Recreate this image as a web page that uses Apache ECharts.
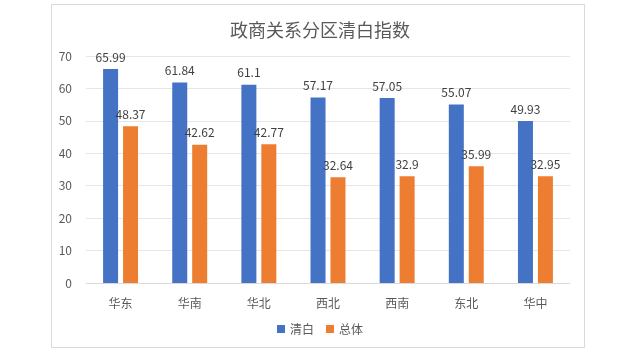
<!DOCTYPE html>
<html><head><meta charset="utf-8">
<script src="https://cdn.jsdelivr.net/npm/echarts@6/dist/echarts.min.js"></script>
<style>html,body{margin:0;padding:0;background:#fff}#c{width:640px;height:363px}</style>
</head><body><div id="c"></div>
<script>
const categories = ['华东','华南','华北','西北','西南','东北','华中'];
const qingbai = [65.99, 61.84, 61.1, 57.17, 57.05, 55.07, 49.93];
const zongti = [48.37, 42.62, 42.77, 32.64, 32.9, 35.99, 32.95];
const yTicks = {min: 0, max: 70, interval: 10};

const chart = echarts.init(document.getElementById('c'), null, {renderer: 'canvas'});
const font = '"Noto Sans CJK SC", "Noto Sans", sans-serif';
chart.setOption({
  animation: false,
  textStyle: {fontFamily: font},
  graphic: [{type: 'rect', shape: {x: 51.5, y: 4.5, width: 533, height: 343}, style: {fill: 'none', stroke: '#d9d9d9', lineWidth: 1}, silent: true}],
  title: {text: '政商关系分区清白指数', left: 'center', top: 16, textStyle: {fontSize: 18, fontWeight: 'normal', color: '#595959', fontFamily: font}},
  legend: {bottom: 23, left: 'center', itemWidth: 8, itemHeight: 8, itemGap: 12, icon: 'rect',
    textStyle: {fontSize: 12, color: '#595959', fontFamily: font}, data: ['清白','总体']},
  grid: {left: 86, right: 70, top: 56, bottom: 80, containLabel: false},
  xAxis: {type: 'category', data: categories,
    axisLine: {lineStyle: {color: '#d9d9d9'}}, axisTick: {show: false},
    axisLabel: {color: '#595959', fontSize: 12, margin: 14, fontFamily: font}},
  yAxis: {type: 'value', min: yTicks.min, max: yTicks.max, interval: yTicks.interval,
    axisLine: {show: false}, axisTick: {show: false},
    axisLabel: {color: '#595959', fontSize: 12, margin: 14, fontFamily: font},
    splitLine: {lineStyle: {color: '#e6e6e6'}}},
  series: [
    {name: '清白', type: 'bar', data: qingbai, barWidth: 15, barGap: '33%', itemStyle: {color: '#4472C4'},
      label: {show: true, position: 'top', distance: 6, color: '#404040', fontSize: 12, fontFamily: font}},
    {name: '总体', type: 'bar', data: zongti, barWidth: 15, itemStyle: {color: '#ED7D31'},
      label: {show: true, position: 'top', distance: 6, color: '#404040', fontSize: 12, fontFamily: font}}
  ]
});
</script></body></html>
